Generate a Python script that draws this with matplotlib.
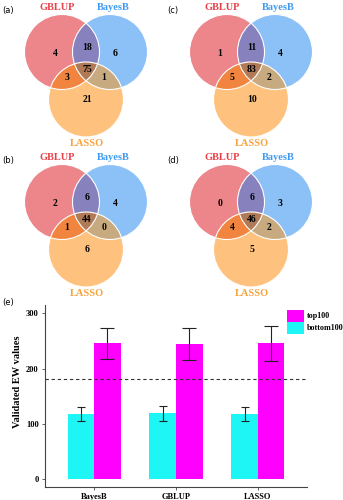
import numpy as np
import matplotlib
matplotlib.use("Agg")
import matplotlib.pyplot as plt
from matplotlib.patches import Circle, Polygon

plt.rcParams['font.family'] = ['Liberation Serif', 'DejaVu Serif']

# ---------------------------------------------------------------------------
# Data
# ---------------------------------------------------------------------------
set_names = ['GBLUP', 'BayesB', 'LASSO']
# region order: G only, B only, G&B, G&B&L, G&L, B&L, L only
venn_a = [4, 6, 18, 75, 3, 1, 21]
venn_b = [2, 4, 6, 44, 1, 0, 6]
venn_c = [1, 4, 11, 83, 5, 2, 10]
venn_d = [0, 3, 6, 46, 4, 2, 5]

methods = ['BayesB', 'GBLUP', 'LASSO']
bottom100 = [117.5, 119, 117.5]
bottom100_err = [13, 13.5, 13]
top100 = [245.5, 244.5, 245.5]
top100_err = [28.5, 29, 31]
threshold = 181

# ---------------------------------------------------------------------------
# Styles
# ---------------------------------------------------------------------------
W, H = 343, 500
label_cols = ['#E8414A', '#3E9BF2', '#F7A23B']
c_red, c_blue, c_orange = '#EC868B', '#8CC1F8', '#FFC27E'
c_rb, c_ro, c_bo, c_rbo = '#8782BE', '#F1843E', '#C8AA80', '#B07A56'

cen = [(62, 52), (110, 52), (86, 99.5)]
rad = 37.5
num_pos = [(55, 53), (115, 53), (87, 47), (87, 69), (67, 77), (104, 77), (87, 99)]


def circle_poly(c, r, n=240):
    t = np.linspace(0, 2 * np.pi, n, endpoint=False)
    return np.column_stack([c[0] + r * np.cos(t), c[1] + r * np.sin(t)])


def clip_poly(subject, clipper):
    # Sutherland-Hodgman, clipper is convex and counter clockwise
    out = list(subject)
    n = len(clipper)
    for i in range(n):
        A = clipper[i]
        B = clipper[(i + 1) % n]
        e = B - A
        inp = out
        out = []
        if len(inp) == 0:
            break

        def side(P):
            return e[0] * (P[1] - A[1]) - e[1] * (P[0] - A[0])

        S = inp[-1]
        for E in inp:
            sE, sS = side(E), side(S)
            if sE >= 0:
                if sS < 0:
                    out.append(S + (E - S) * (sS / (sS - sE)))
                out.append(E)
            elif sS >= 0:
                out.append(S + (E - S) * (sS / (sS - sE)))
            S = E
    return np.array(out)


def draw_venn(ox, oy, counts, tag):
    ax = fig.add_axes([ox / W, (H - oy - 150) / H, 172 / W, 150 / H])
    ax.set_xlim(0, 172)
    ax.set_ylim(150, 0)
    ax.axis('off')
    pr, pb, po = [circle_poly(c, rad) for c in cen]
    for c, col in zip(cen, [c_red, c_blue, c_orange]):
        ax.add_patch(Circle(c, rad, facecolor=col, edgecolor='none'))
    rb = clip_poly(pr, pb)
    ro = clip_poly(pr, po)
    bo = clip_poly(pb, po)
    rbo = clip_poly(rb, po)
    for poly, col in [(rb, c_rb), (ro, c_ro), (bo, c_bo), (rbo, c_rbo)]:
        ax.add_patch(Polygon(poly, closed=True, facecolor=col, edgecolor='none'))
    for c in cen:
        ax.add_patch(Circle(c, rad, facecolor='none', edgecolor='white', lw=0.8))
    for (x, y), v in zip(num_pos, counts):
        ax.text(x, y, str(v), ha='center', va='center', fontsize=7,
                fontweight='bold', color='black')
    ax.text(57, 7, set_names[0], ha='center', va='center', fontsize=7.5,
            fontweight='bold', color=label_cols[0])
    ax.text(113, 7, set_names[1], ha='center', va='center', fontsize=7.5,
            fontweight='bold', color=label_cols[1])
    ax.text(87, 143, set_names[2], ha='center', va='center', fontsize=7.5,
            fontweight='bold', color=label_cols[2])
    fig.text((ox + 2) / W, 1 - (oy + 10) / H, tag, fontsize=6,
             family=['DejaVu Sans'], va='center', ha='left')


fig = plt.figure(figsize=(W / 100, H / 100), dpi=100)

draw_venn(0, 0, venn_a, '(a)')
draw_venn(165, 0, venn_c, '(c)')
draw_venn(0, 150, venn_b, '(b)')
draw_venn(165, 150, venn_d, '(d)')

# ---------------------------------------------------------------------------
# Bar chart (e)
# ---------------------------------------------------------------------------
ax = fig.add_axes([45 / W, 13 / H, 262 / W, 182 / H])
x = np.arange(1, len(methods) + 1)
bw = 0.325
ax.bar(x - bw / 2, bottom100, bw, color='#1EF5F5', label='bottom100')
ax.bar(x + bw / 2, top100, bw, color='#FF00FF', label='top100')
ax.errorbar(x - bw / 2, bottom100, yerr=bottom100_err, fmt='none',
            ecolor='#222222', elinewidth=0.8, capsize=2.9, capthick=0.8)
ax.errorbar(x + bw / 2, top100, yerr=top100_err, fmt='none',
            ecolor='#222222', elinewidth=0.8, capsize=4.7, capthick=0.8)
ax.axhline(threshold, color='#333333', ls=(0, (3, 2.5)), lw=0.8)
ax.set_xlim(0.4, 3.6)
ax.set_ylim(-14.5, 315)
ax.set_yticks([0, 100, 200, 300])
ax.set_xticks(x)
ax.set_xticklabels(methods)
for s in ['top', 'right']:
    ax.spines[s].set_visible(False)
for s in ['left', 'bottom']:
    ax.spines[s].set_color('#444444')
    ax.spines[s].set_linewidth(0.8)
ax.tick_params(length=2.5, width=0.6, color='#444444', labelsize=6, pad=2)
for lab in ax.get_xticklabels() + ax.get_yticklabels():
    lab.set_fontweight('bold')
ax.set_ylabel('Validated EW values', fontsize=7.5, fontweight='bold')
ax.yaxis.set_label_coords(-23 / 262, 0.577)

h, l = ax.get_legend_handles_labels()
ax.legend(h[::-1], l[::-1], loc='upper left',
          bbox_to_anchor=(240 / 262, 1 - 3 / 182),
          frameon=False, prop={'weight': 'bold', 'size': 5.8},
          handlelength=2.2, handleheight=1.9, handletextpad=0.3,
          labelspacing=0.05, borderaxespad=0, borderpad=0.2)

fig.text(2 / W, 1 - 303 / H, '(e)', fontsize=6, family=['DejaVu Sans'],
         va='center', ha='left')

fig.savefig('out.png', dpi=100)
